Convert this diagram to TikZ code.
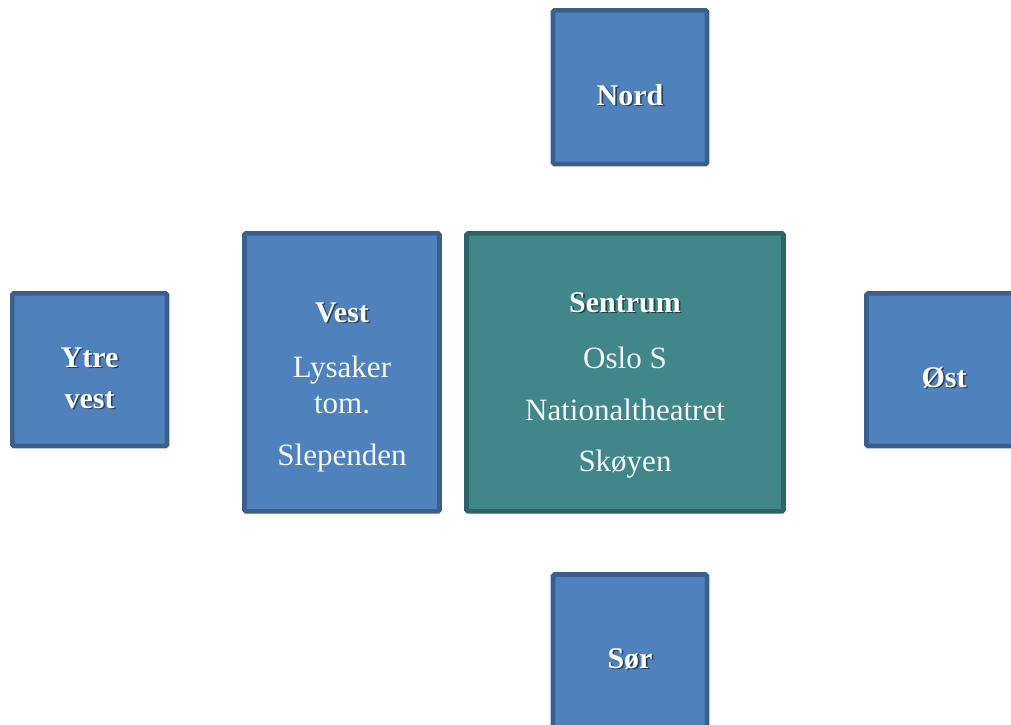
\documentclass[tikz,border=0pt]{standalone}
\usepackage{fontspec}
\setmainfont{Liberation Serif}
\definecolor{bluefill}{HTML}{4F81BD}
\definecolor{blueline}{HTML}{3A5F8D}
\definecolor{tealfill}{HTML}{41878A}
\definecolor{tealline}{HTML}{2F6466}
\definecolor{lighttext}{HTML}{F4F6F8}
\tikzset{
  bluebox/.style={draw=blueline, fill=bluefill, line width=4.6pt, rounded corners=1.5pt},
  tealbox/.style={draw=tealline, fill=tealfill, line width=4.6pt, rounded corners=1.5pt},
  head/.style={anchor=base, text=white, font=\fontsize{30}{33}\selectfont\bfseries, inner sep=0pt},
  headshadow/.style={anchor=base, text=black, opacity=0.5, font=\fontsize{30}{33}\selectfont\bfseries, inner sep=0pt},
  body/.style={anchor=base, text=lighttext, font=\fontsize{31}{34}\selectfont, inner sep=0pt}
}
\newcommand{\headlabel}[3]{%
  \node[headshadow] (#1s) at ([xshift=1.6pt,yshift=-1.6pt]#2) {#3};
  \node[head] (#1) at (#2) {#3};}
\begin{document}
\begin{tikzpicture}[x=1pt,y=-1pt]
\useasboundingbox (0,0) rectangle (1011,724);
% boxes
\path[bluebox] (553,10.3) rectangle (707,164) coordinate (nordbox);
\path[bluebox] (244.5,233.3) rectangle (439.5,511.4) coordinate (vestbox);
\path[tealbox] (466.5,233.3) rectangle (783.5,511.4) coordinate (sentrumbox);
\path[bluebox] (12.3,293.3) rectangle (167,446) coordinate (ytrebox);
\path[bluebox] (866.5,293.3) rectangle (1021,446) coordinate (ostbox);
\path[bluebox] (553,574.5) rectangle (707,730) coordinate (sorbox);
% anchors for text
\coordinate (pnord) at (630,105);
\coordinate (pytre) at (89.5,367);
\coordinate (pytre2) at (89.5,408);
\coordinate (post) at (944,387);
\coordinate (psor) at (630,668);
\coordinate (pvest) at (342,322);
\coordinate (psent) at (625,312);
% labels
\headlabel{nord}{pnord}{Nord}
\headlabel{ytre}{pytre}{Ytre}
\headlabel{ytre2}{pytre2}{vest}
\headlabel{ost}{post}{Øst}
\headlabel{sor}{psor}{Sør}
\headlabel{vest}{pvest}{Vest}
\headlabel{sentrum}{psent}{Sentrum}
\node[body] (lysaker) at (342,377) {Lysaker};
\node[body] (tom) at (342,413) {tom.};
\node[body] (slependen) at (342,465) {Slependen};
\node[body] (oslos) at (625,368) {Oslo S};
\node[body] (nat) at (625,420) {Nationaltheatret};
\node[body] (skoyen) at (625,471) {Skøyen};
\end{tikzpicture}
\end{document}
